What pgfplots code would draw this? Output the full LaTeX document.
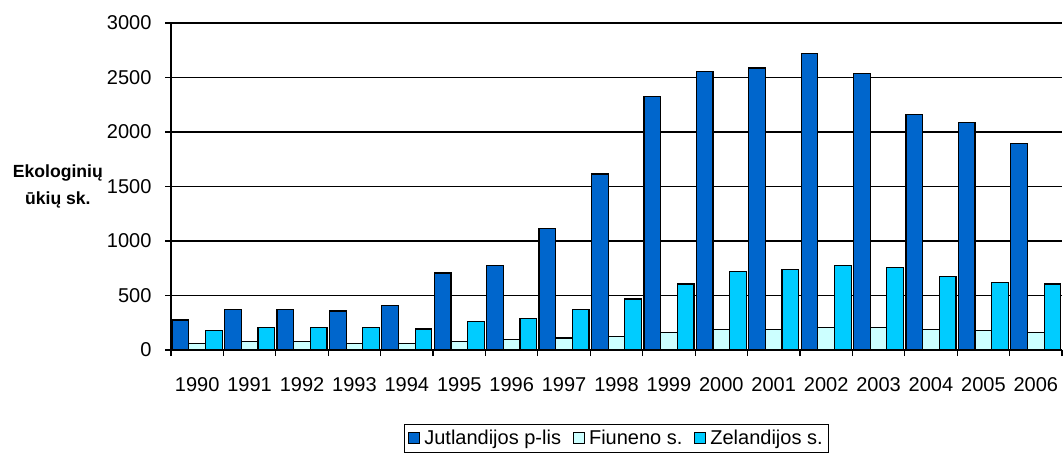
\documentclass[border=0pt]{standalone}
\usepackage{fontspec}
\setmainfont{Liberation Sans}
\usepackage{pgfplots}
\usepackage{pgfplotstable}
\pgfplotsset{compat=1.18}
\definecolor{cJ}{HTML}{0066CC}
\definecolor{cF}{HTML}{CCFFFF}
\definecolor{cZ}{HTML}{00CCFF}
\pgfplotstableread{
x year J F Z
0 1990 275 61 177
1 1991 373 80 208
2 1992 375 80 208
3 1993 357 61 208
4 1994 406 61 193
5 1995 706 80 260
6 1996 773 98 290
7 1997 1116 110 373
8 1998 1614 125 468
9 1999 2322 159 605
10 2000 2558 190 721
11 2001 2588 190 736
12 2002 2720 205 773
13 2003 2540 205 755
14 2004 2157 190 672
15 2005 2090 177 621
16 2006 1895 159 605
}\datatable
\begin{document}
\begin{tikzpicture}
\useasboundingbox (0,0) rectangle (1063bp,463bp);
\begin{axis}[
  at={(171bp,113bp)}, anchor=south west,
  scale only axis, width=891bp, height=327bp,
  xmin=-0.5, xmax=16.5, ymin=0, ymax=3000,
  axis x line*=bottom, axis y line*=left,
  axis line style={black, line width=1.2bp},
  tick align=outside,
  ytick={0,500,...,3000},
  ymajorgrids, major grid style={black, line width=1.3bp},
  major tick length=6bp, minor tick length=6bp,
  xtick={0,...,16},
  xticklabels={1990,1991,1992,1993,1994,1995,1996,1997,1998,1999,2000,2001,2002,2003,2004,2005,2006},
  major x tick style={draw=none},
  minor xtick={-0.5,0.5,...,16.5},
  every tick/.style={black, line width=1.2bp},
  tick label style={font=\fontsize{20bp}{24bp}\selectfont},
  /pgf/number format/assume math mode=true,
  /pgf/number format/1000 sep={},
  xticklabel style={yshift=-18bp},
  yticklabel style={xshift=-10bp},
  ylabel={Ekologinių\\ūkių sk.},
  every axis y label/.style={at={(rel axis cs:-0.127,0.5015)}, anchor=center, align=center,
     font=\fontsize{17.6bp}{27bp}\selectfont\bfseries},
  legend style={at={(rel axis cs:0.5,-0.226)}, anchor=north, legend columns=3,
     draw=black, line width=1bp, font=\fontsize{20bp}{24bp}\selectfont,
     inner xsep=4bp, inner ysep=4bp,
     /tikz/every odd column/.append style={column sep=2bp},
     /tikz/every even column/.append style={column sep=10bp}},
  legend image code/.code={\draw[#1, line width=1bp] (0bp,-5bp) rectangle (11bp,6bp);},
  legend cell align=left,
]
\addplot[ybar, bar width=0.318, bar shift=-0.318, fill=cJ, draw=black, line width=1.2bp] table[x=x, y=J] {\datatable};
\addplot[ybar, bar width=0.318, bar shift=0, fill=cF, draw=black, line width=1.2bp] table[x=x, y=F] {\datatable};
\addplot[ybar, bar width=0.318, bar shift=0.318, fill=cZ, draw=black, line width=1.2bp] table[x=x, y=Z] {\datatable};
\legend{Jutlandijos p-lis, Fiuneno s., Zelandijos s.}
\end{axis}
\end{tikzpicture}
\end{document}
